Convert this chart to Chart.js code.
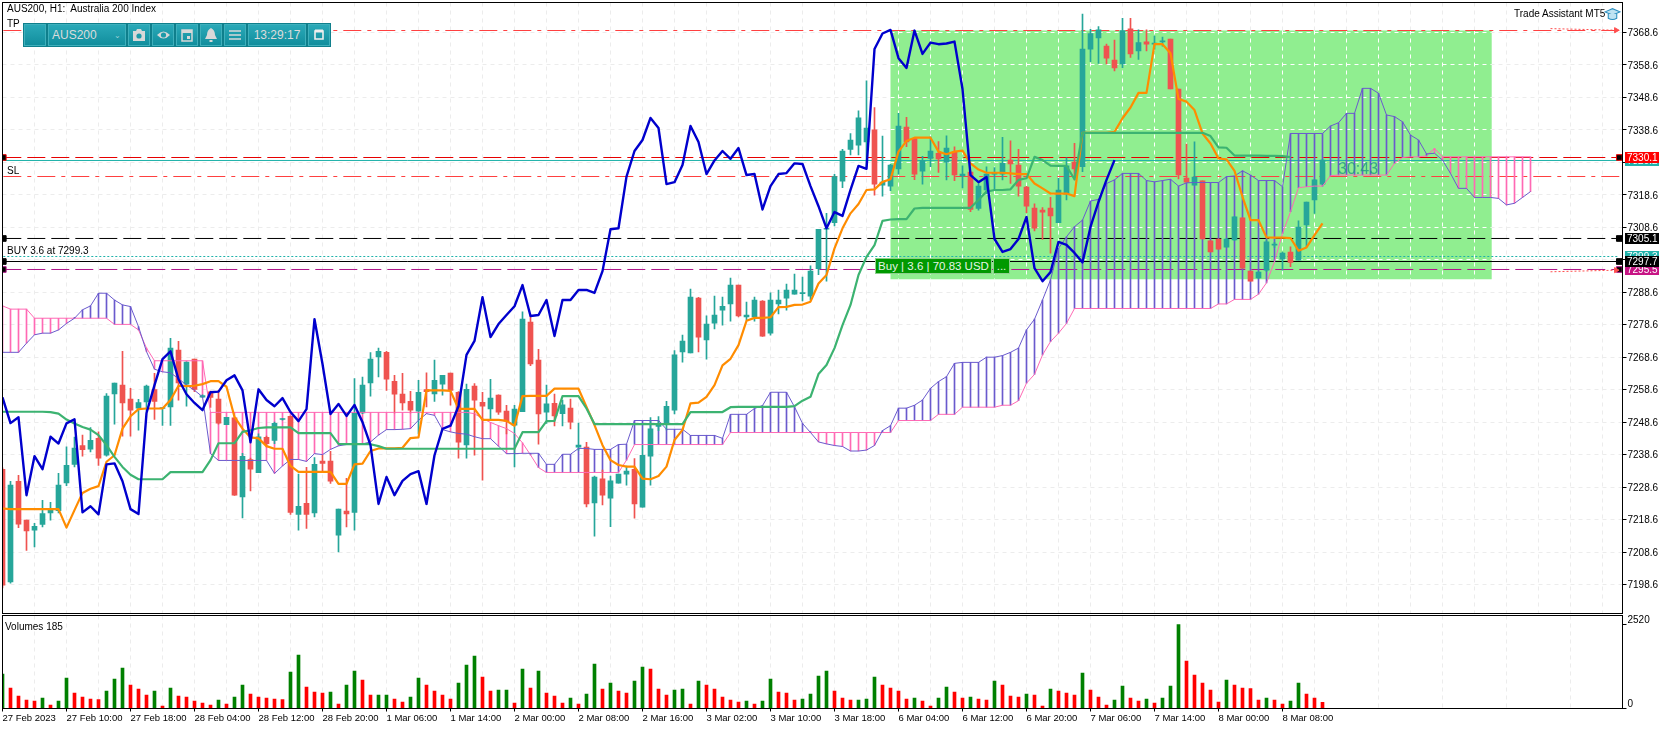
<!DOCTYPE html>
<html>
<head>
<meta charset="utf-8">
<title>AUS200, H1</title>
<script src="https://cdn.jsdelivr.net/npm/chart.js@4.4.1/dist/chart.umd.min.js"></script>
<style>
    html, body { margin: 0; padding: 0; background: #fff; width: 1670px; height: 729px; overflow: hidden; }
    body { position: relative; font-family: "Liberation Sans", Arial, sans-serif; }
    canvas { position: absolute; left: 0; }
    #chart_price { top: 0; }
    #chart_volume { top: 614px; }
    .txt { position: absolute; font-size: 10px; line-height: 12px; color: #000; white-space: pre; }
    #toolbar { position: absolute; left: 23px; top: 23px; width: 308px; height: 24px; background: #0f7f8c; box-sizing: border-box; }
    .cell { position: absolute; top: 1px; height: 22px; box-sizing: border-box; border: 1px solid #3fb0bc;
        background: linear-gradient(#2aa9b8, #128e9d); color: #dcdcdc; font-size: 12px; line-height: 20px; text-align: center; }
    .cell svg { display: block; margin: 3px auto 0; }
    #buy_box, #buy_more { position: absolute; top: 258px; height: 16px; background: #009900; border: 1px solid #8fcf8f;
        box-sizing: border-box; color: #e6f5e6; font-size: 11.5px; line-height: 14px; text-align: center; }
    #buy_box { left: 875px; width: 117px; }
    #buy_more { left: 993px; width: 17px; }
    #timer { position: absolute; left: 1338px; top: 160px; font-size: 16px; line-height: 18px; color: rgba(32, 150, 130, 0.8); }
</style>
</head>
<body>
<canvas id="chart_price" width="1670" height="614"></canvas>
<canvas id="chart_volume" width="1670" height="115"></canvas>

<div class="txt" style="left:7px;top:3px">AUS200, H1:  Australia 200 Index</div>
<div class="txt" style="left:7px;top:18px">TP</div>
<div class="txt" style="left:7px;top:165px">SL</div>
<div class="txt" style="left:7px;top:245px">BUY 3.6 at 7299.3</div>
<div class="txt" style="left:1514px;top:8px">Trade Assistant MT5</div>
<div class="txt" style="left:5px;top:621px">Volumes 185</div>
<svg style="position:absolute;left:1604px;top:6px" width="17" height="16" viewBox="0 0 16 14">
    <path d="M1 5 L8 2 L15 5 L8 8 Z" fill="#bfe3f2" stroke="#2a8fc0"/>
    <path d="M4 7 V11 Q8 13.5 12 11 V7" fill="#bfe3f2" stroke="#2a8fc0"/>
</svg>

<div id="toolbar">
    <div class="cell" style="left:1px;width:22px"></div>
    <div class="cell" style="left:25px;width:78px;text-align:left;padding-left:3px">AUS200<span style="position:absolute;right:4px;top:1px;font-size:8px;color:#9fd0d6">&#8964;</span></div>
    <div class="cell" style="left:105px;width:22px"><svg width="14" height="14" viewBox="0 0 14 14"><path d="M1 3 H4 L5 1 H9 L10 3 H13 V13 H1 Z" fill="#d8d8d8"/><circle cx="7" cy="8" r="2.6" fill="#1d9aa8"/></svg></div>
    <div class="cell" style="left:129px;width:22px"><svg width="15" height="14" viewBox="0 0 15 14"><path d="M1 7 Q7.5 0 14 7 Q7.5 14 1 7 Z" fill="#d8d8d8"/><circle cx="7.5" cy="7" r="2.6" fill="#1d9aa8"/></svg></div>
    <div class="cell" style="left:153px;width:22px"><svg width="14" height="14" viewBox="0 0 14 14"><path d="M2 2 H12 V13 H2 Z" fill="none" stroke="#d8d8d8" stroke-width="1.5"/><rect x="2" y="2" width="10" height="3" fill="#d8d8d8"/><rect x="7" y="8" width="3" height="3" fill="#d8d8d8"/></svg></div>
    <div class="cell" style="left:177px;width:22px"><svg width="14" height="14" viewBox="0 0 14 14"><path d="M7 0 Q11 2 11 7 L13 11 H1 L3 7 Q3 2 7 0 Z" fill="#d8d8d8"/><rect x="5.5" y="12" width="3" height="2" fill="#d8d8d8"/></svg></div>
    <div class="cell" style="left:201px;width:22px"><svg width="14" height="14" viewBox="0 0 14 14"><path d="M1 3 H13 M1 7 H13 M1 11 H13" stroke="#d8d8d8" stroke-width="1.6"/></svg></div>
    <div class="cell" style="left:225px;width:58px">13:29:17</div>
    <div class="cell" style="left:285px;width:22px"><svg width="12" height="14" viewBox="0 0 12 14"><path d="M2 3 H10 V11 H2 Z" fill="none" stroke="#eee" stroke-width="1.6"/><path d="M2 3 H10" stroke="#eee" stroke-width="3"/></svg></div>
</div>

<div id="buy_box">Buy | 3.6 | 70.83 USD</div>
<div id="buy_more">...</div>
<div id="timer">30:43</div>

<script>
// Eixo de tempo (um rótulo a cada 8 barras)
const timeLabels = ['27 Feb 2023', '27 Feb 10:00', '27 Feb 18:00', '28 Feb 04:00', '28 Feb 12:00', '28 Feb 20:00',
    '1 Mar 06:00', '1 Mar 14:00', '2 Mar 00:00', '2 Mar 08:00', '2 Mar 16:00', '3 Mar 02:00', '3 Mar 10:00',
    '3 Mar 18:00', '6 Mar 04:00', '6 Mar 12:00', '6 Mar 20:00', '7 Mar 06:00', '7 Mar 14:00', '8 Mar 00:00', '8 Mar 08:00'];
const priceTicks = [7368.6, 7358.6, 7348.6, 7338.6, 7328.6, 7318.6, 7308.6, 7298.6, 7288.6, 7278.6, 7268.6, 7258.6,
    7248.6, 7238.6, 7228.6, 7218.6, 7208.6, 7198.6];
const volumeTicks = [0, 2520];

// Candles
const opens = [7234.1,7199.4,7230.4,7218.4,7215.3,7217.1,7220.6,7221.3,7229.9,7235.6,
    7241.4,7240.3,7243.6,7238.4,7257.3,7260,7255.7,7252.9,7254.8,7258.6,
    7252.8,7253.3,7270.8,7260.3,7268,7256.3,7257.9,7255.7,7247.8,7249.9,
    7225.6,7237.1,7233,7243.9,7243,7249.4,7250.4,7220.2,7223.6,7220.6,
    7236.6,7236.6,7213.8,7221.2,7220.8,7251.4,7260.7,7268.7,7270.1,7261.2,
    7257.2,7255,7252,7258.6,7257.3,7260.3,7263.7,7257.8,7241.6,7259.7,
    7254.7,7252.7,7256.9,7252,7247.7,7251.8,7279.4,7267.7,7251.7,7254.4,
    7251.2,7252.9,7240.9,7240.9,7223.7,7231.1,7225.2,7229.8,7232.6,7234.1,
    7222.4,7238.1,7247.3,7248,7252.3,7270.2,7269.9,7286.8,7273.9,7279.1,
    7283.1,7285,7290.8,7281,7281,7285.9,7276,7285,7286.8,7288,
    7288.2,7287.4,7295.9,7308,7310,7322.8,7332.6,7333.9,7334.9,7338.6,
    7321.6,7321.3,7326.6,7339.5,7335.9,7325.9,7329.8,7331.4,7328.7,7331.8,
    7324.4,7325.6,7314.4,7320.1,7325,7325,7329.3,7327.8,7321,7314.5,
    7313.9,7314.5,7310,7318.8,7328.7,7327.3,7363.5,7366.9,7364.4,7360.1,
    7358.9,7369.7,7362.9,7365.7,7365,7365.7,7366.6,7351.2,7323.8,7321.6,
    7322.9,7304.4,7305,7302.5,7304.7,7311.5,7295.1,7293,7295.4,7303.1,
    7298.8,7301,7298.5,7309.3,7317,7321.9];
const closes = [7198.4,7229.2,7217.2,7215.1,7216.5,7220.4,7221.5,7229.2,7235.3,7240.6,
    7240.1,7243,7237.5,7256.6,7260.6,7254.5,7252.3,7254.6,7259.7,7255,
    7252.9,7271.4,7260.7,7267.1,7258.7,7256.8,7256.2,7248.3,7250.1,7226.1,
    7238.1,7234.1,7244.1,7242,7248.2,7249.5,7220.8,7222.7,7220.2,7235.6,
    7235.9,7230.4,7221.8,7220.3,7251.4,7260,7268,7270.4,7261.8,7257.2,
    7254.5,7252.3,7257.8,7258,7261.5,7263,7258.4,7242.4,7258.7,7255.4,
    7253.5,7256,7251.7,7248.9,7252.6,7280.3,7266.5,7251.1,7254.2,7250.5,
    7253.9,7248.6,7241.5,7223.4,7231.7,7226.1,7230.5,7232.6,7233.5,7223.4,
    7238.4,7246.5,7247.5,7253.5,7269.3,7273.6,7287.1,7274.8,7278.8,7281.6,
    7284.3,7290.8,7281.3,7281.6,7286.2,7275.1,7286.2,7286.2,7289.3,7289.3,
    7288.4,7295.1,7308,7308.3,7324.2,7332.1,7335.5,7342.3,7339.2,7321.9,
    7322.5,7327.8,7339.8,7334.9,7325,7329.2,7332.1,7329.7,7333,7324.7,
    7325,7314.1,7321.3,7325,7325.3,7328.3,7328.1,7321.3,7315.1,7308.3,
    7313.3,7312.1,7320.1,7327.5,7326.6,7363.5,7368.3,7369.4,7360.7,7357.7,
    7369.2,7362,7365.5,7365,7365.2,7365.8,7351.2,7324.7,7322.5,7324.1,
    7305,7301,7301.9,7305,7311.8,7296,7292,7294.8,7304.1,7303.2,
    7300.7,7297.8,7308.7,7316.4,7323.2,7329.3];
const highs = [7234.5,7230.4,7232.2,7218.4,7217.4,7224.5,7223.9,7232.8,7241,7244,
    7244.6,7246.9,7245.6,7257.4,7260.6,7270.4,7259,7255.6,7260,7263.6,
    7253,7274.4,7273.5,7267.1,7268,7257,7258.2,7258.4,7250.1,7250,
    7239,7237.5,7245,7244.3,7248.6,7249.7,7250.5,7232.6,7234.7,7237.7,
    7238.4,7239.6,7221.8,7231.3,7262,7262.5,7270,7271.4,7270.4,7263,
    7263.6,7258.1,7261.5,7263.8,7267.7,7263,7263.7,7258,7260.3,7260.5,
    7257.8,7261.8,7257,7253.8,7253.8,7282.6,7281.6,7271,7260,7257.2,
    7255.4,7255.7,7248.3,7242.4,7232,7233.8,7232,7232.6,7235.1,7237.4,
    7241.5,7250,7250.3,7255,7270.6,7275.4,7289.6,7287,7281.3,7287.4,
    7287.1,7293,7290.8,7285.6,7287.1,7286,7288.4,7289.3,7291.1,7294.2,
    7293.3,7296.7,7308,7312.9,7324.9,7332.6,7337.5,7344.5,7353.7,7345.5,
    7336.7,7328,7343.7,7342.5,7336.2,7330.5,7336.5,7335,7336.8,7333.4,
    7327.5,7326,7322,7327.2,7327,7336.3,7335.2,7332.6,7321.2,7315.8,
    7314.7,7317.8,7323.7,7330,7334.5,7374.3,7369.6,7370.4,7365,7366.3,
    7373,7373,7369.4,7369.4,7367.5,7367.2,7366.6,7351.2,7334.2,7334.9,
    7322.9,7304.4,7305,7305.2,7312,7311.5,7295.1,7295,7304.5,7304,
    7301,7302.6,7310.6,7316.4,7323.4,7329.5];
const lows = [7197.5,7199,7216.1,7209.1,7210.2,7216.3,7218.4,7220.6,7229,7234.8,
    7238.1,7239.4,7235.3,7238.1,7248,7244.3,7244.3,7246.1,7252,7249.4,
    7247.6,7247.6,7255.4,7253.5,7258,7256.1,7253.1,7248,7247.8,7226,
    7219.1,7227.4,7233,7241,7242,7249.2,7220.2,7215.3,7215.9,7219.4,
    7233.2,7229.7,7208.6,7216.3,7215.3,7251.2,7256.6,7262.5,7258.4,7251.4,
    7252.3,7251.4,7245,7253.3,7255,7256.9,7253.8,7237.5,7237.5,7238.4,
    7230.7,7249.2,7251,7245,7234.8,7251.8,7266,7241.8,7248.2,7247.4,
    7247.4,7246.5,7240,7222.5,7213.5,7223.1,7216.4,7229.8,7229.2,7219,
    7222.4,7229.2,7246,7246.2,7251.1,7267.1,7269.9,7270.2,7268,7277.3,
    7278.5,7279.7,7281,7280,7279.7,7275,7275.4,7281.9,7283.1,7288,
    7285.9,7286.2,7294,7292,7309,7320.8,7330.9,7330.9,7327.3,7318.5,
    7318.2,7319.9,7325,7333.4,7323.3,7321.9,7327.3,7325.5,7323.2,7323,
    7320.7,7313.4,7313.9,7319,7320,7323.2,7322.1,7318.2,7313.1,7307.5,
    7304.9,7300.6,7310,7317,7323.2,7325.7,7359.6,7359.1,7358.9,7356.8,
    7357.8,7360.9,7360.3,7362.9,7363.5,7364.4,7351.2,7323.5,7322.5,7321.6,
    7305,7301,7301.9,7302.5,7304.5,7296,7292,7292.8,7295,7302.4,
    7295.4,7296.5,7298.5,7302.6,7312.9,7321.9];

// Ichimoku
const tenkan = [7222,7221.8,7221.8,7221.8,7221.8,7221.8,7221.8,7221.8,7216.1,7221.5,
    7226.8,7228.1,7228.9,7236.4,7238.4,7246.6,7250.4,7252.6,7252.8,7252.8,
    7252.8,7255.4,7259.8,7259.7,7259.8,7260.3,7261.2,7261.2,7259.5,7250.2,
    7246.6,7243.9,7243.6,7241.2,7240.4,7240.4,7235.1,7233.3,7233.3,7233.3,
    7233.3,7233.3,7229.6,7229.6,7235.6,7235.8,7239.7,7240.5,7240.5,7240.5,
    7240.7,7243.7,7243.9,7258.4,7258.4,7258.4,7258.2,7252.7,7252.7,7252.7,
    7249.3,7249.3,7249.3,7249,7247.5,7256.6,7256.7,7256.7,7256.7,7258.9,
    7258.9,7258.9,7258.9,7253.3,7247.7,7241.5,7236.9,7235.4,7234.9,7234.9,
    7231.2,7231,7232,7234.9,7243.1,7246.2,7254.4,7254.6,7256.4,7260,
    7266.1,7268.1,7272.3,7279.8,7280.7,7280.7,7280.9,7284,7284.1,7284.7,
    7284.8,7285.7,7291.3,7293.9,7302.1,7308.3,7312.9,7315.8,7320.1,7320.3,
    7322.6,7323.4,7331.9,7335.2,7336.2,7336.2,7336.2,7331.9,7331.1,7331.9,
    7332.2,7328.3,7326.4,7325.4,7325.4,7325.4,7325.2,7325,7325,7322.1,
    7320.6,7319,7319,7319,7318.2,7337.7,7337.7,7337.7,7337.7,7338,
    7342.2,7345.5,7350,7350,7365,7365,7362.2,7348.1,7347.3,7344.7,
    7337.5,7334.4,7329.8,7329.5,7326,7318,7310.8,7310.8,7305.5,7305.4,
    7305.4,7305.3,7301.4,7302.4,7306.2,7309.8];
const kijun = [7251.8,7251.8,7251.8,7251.8,7251.8,7251.8,7251.7,7251.2,7249.4,7248.2,
    7247.1,7246.3,7244.6,7241.5,7237.9,7234.8,7232.4,7231,7231,7231,
    7231,7233.2,7233.2,7233.2,7233.2,7233.2,7236.9,7242.1,7242.1,7242.1,
    7245.6,7246.1,7246.8,7247,7247,7247,7247,7245.2,7245.2,7245.2,
    7245.2,7245.2,7241.9,7241.8,7241.8,7241.8,7241.8,7241.2,7240.4,7240.4,
    7240.4,7240.4,7240.4,7240.4,7240.4,7240.4,7240.4,7240.4,7240.4,7240.4,
    7240.4,7240.4,7240.4,7240.4,7240.4,7245.5,7245.5,7245.5,7248.9,7249,
    7256.6,7256.6,7256.6,7252.8,7248,7248,7248,7248,7248,7248,
    7248,7248,7248,7248,7248,7248,7251.7,7251.7,7251.7,7251.7,
    7251.7,7253.2,7253.3,7253.3,7253.3,7253.3,7253.3,7253.3,7253.3,7253.5,
    7255.2,7256.4,7263.4,7266.2,7271.4,7278.5,7284.7,7293.9,7299.5,7303.1,
    7310.6,7311,7311.1,7311.1,7314.4,7314.6,7314.6,7314.6,7314.6,7314.6,
    7314.6,7314.6,7317,7319.6,7320.1,7320.1,7320.3,7323.2,7323.7,7330.3,
    7329.3,7327.6,7327.5,7327.5,7323.4,7337.7,7337.7,7337.7,7337.7,7337.7,
    7337.7,7337.7,7337.7,7337.7,7337.7,7337.7,7337.7,7337.7,7337.7,7337.7,
    7337.7,7336.7,7333.2,7333.1,7330.7,7330.7,7330.7,7330.7,7330.6,7330.6,
    7330.5,7330.2,null,null,null,null];
const chikou = [7256.2,7248.3,7250.1,7226.1,7238.1,7234.1,7244.1,7242,7248.2,7249.5,
    7220.8,7222.7,7220.2,7235.6,7235.9,7230.4,7221.8,7220.3,7251.4,7260,
    7268,7270.4,7261.8,7257.2,7254.5,7252.3,7257.8,7258,7261.5,7263,
    7258.4,7242.4,7258.7,7255.4,7253.5,7256,7251.7,7248.9,7252.6,7280.3,
    7266.5,7251.1,7254.2,7250.5,7253.9,7248.6,7241.5,7223.4,7231.7,7226.1,
    7230.5,7232.6,7233.5,7223.4,7238.4,7246.5,7247.5,7253.5,7269.3,7273.6,
    7287.1,7274.8,7278.8,7281.6,7284.3,7290.8,7281.3,7281.6,7286.2,7275.1,
    7286.2,7286.2,7289.3,7289.3,7288.4,7295.1,7308,7308.3,7324.2,7332.1,
    7335.5,7342.3,7339.2,7321.9,7322.5,7327.8,7339.8,7334.9,7325,7329.2,
    7332.1,7329.7,7333,7324.7,7325,7314.1,7321.3,7325,7325.3,7328.3,
    7328.1,7321.3,7315.1,7308.3,7313.3,7312.1,7320.1,7327.5,7326.6,7363.5,
    7368.3,7369.4,7360.7,7357.7,7369.2,7362,7365.5,7365,7365.2,7365.8,
    7351.2,7324.7,7322.5,7324.1,7305,7301,7301.9,7305,7311.8,7296,
    7292,7294.8,7304.1,7303.2,7300.7,7297.8,7308.7,7316.4,7323.2,7329.3];
const spanA = [7270.1,7270.1,7270.1,7272.9,7275.5,7276,7276,7277,7279,7280.6,
    7283.2,7284.4,7288.3,7288.3,7286.2,7284.7,7284.2,7278,7270.3,7264.9,
    7264.1,7263.8,7262,7260,7258.4,7256.4,7238.9,7236.8,7236.8,7236.8,
    7236.8,7236.8,7236.8,7236.8,7232.8,7235.1,7237.1,7237.1,7236.5,7238.9,
    7238.6,7240.2,7241.3,7241.7,7241.8,7241.9,7242.5,7244.6,7246.3,7246.3,
    7246.4,7246.6,7249.2,7251.2,7250.7,7246.3,7245.6,7245.1,7244.9,7244.1,
    7243.5,7243.5,7241.2,7238.9,7238.9,7239,7239,7239,7235.6,7235.6,
    7238.7,7238.7,7240.5,7240.5,7240.2,7240.2,7240.2,7241.7,7241.8,7249.1,
    7249.1,7249.1,7249.1,7246.4,7246.4,7246.4,7244.5,7244.5,7244.5,7244.5,
    7243.6,7251,7251,7251,7252.8,7253.7,7257.8,7257.8,7257.8,7253.3,
    7248.2,7245.4,7242.5,7241.9,7241.4,7241.1,7239.7,7239.7,7240,7241.4,
    7246,7247.5,7252.9,7252.9,7253.8,7255.4,7259,7261.1,7262.6,7266.7,
    7267,7267,7267,7268.6,7268.6,7269.1,7270.1,7271.4,7277,7280.3,
    7286.2,7292.4,7302.1,7305.7,7308.8,7310.8,7316.7,7317.2,7322.1,7323.2,
    7325.2,7325.2,7325.2,7323,7322.6,7323,7323.4,7321.3,7322.3,7322.4,
    7322.4,7322.4,7322.4,7324.2,7324.4,7326,7324.7,7323,7323,7323,
    7321.1,7337.5,7337.5,7337.5,7337.5,7337.5,7339.8,7340.8,7343.7,7343.7,
    7351.4,7351.4,7349.9,7343.2,7342.7,7341.1,7337,7335.5,7331.2,7331.4,
    7329.3,7325.2,7320.6,7320.6,7317.8,7317.8,7317.8,7317.5,7315.5,7316,7317.8,7319.6];
const spanB = [7284.4,7283.4,7283.4,7283.4,7280.6,7280.6,7280.6,7280.6,7280.6,7280.6,
    7280.6,7280.6,7280.6,7280.6,7278.7,7278.7,7278.7,7277,7271.4,7267.5,
    7267.5,7267.5,7267.5,7267.5,7267.5,7267.5,7251.6,7251.6,7251.6,7251.6,
    7251.6,7251.6,7251.6,7251.6,7251.6,7251.6,7251.6,7251.6,7251.6,7251.6,
    7251.6,7251.6,7251.6,7251.6,7251.6,7251.6,7251.6,7251.6,7251.6,7251.6,
    7251.6,7251.6,7251.6,7251.6,7251.6,7251.6,7251.6,7251.6,7251.6,7251.2,
    7249.7,7248.5,7247.5,7246.6,7245.1,7242.2,7238.5,7234.6,7233.1,7233.1,
    7233.1,7233.1,7233.1,7233.1,7233.1,7233.1,7233.1,7233.1,7236.9,7241.7,
    7241.7,7241.7,7241.7,7241.7,7241.7,7241.7,7241.7,7241.7,7241.7,7241.7,
    7241.7,7245.4,7245.4,7245.4,7245.4,7245.4,7245.4,7245.4,7245.4,7245.4,
    7245.4,7245.4,7245.4,7245.4,7245.4,7245.4,7245.4,7245.4,7245.4,7245.4,
    7245.4,7245.4,7249.1,7249.1,7249.1,7249.1,7249.1,7251,7251,7251,
    7253.2,7253.2,7253.2,7253.2,7253.2,7253.8,7253.8,7255.2,7260.6,7263.3,
    7269.3,7273.4,7276,7279,7283.6,7283.6,7283.6,7283.6,7283.6,7283.6,
    7283.6,7283.6,7283.6,7283.6,7283.6,7283.6,7283.6,7283.6,7283.6,7283.6,
    7283.6,7283.6,7285,7285,7286.4,7286.4,7286.4,7288,7291.5,7298,
    7306.7,7313.4,7320.8,7321.1,7321.3,7321.3,7324.5,7324.7,7324.7,7324.7,
    7324.7,7324.7,7324.7,7324.7,7328.3,7330.1,7330.3,7330.3,7330.6,7332.9,
    7330.3,7330.3,7330.3,7330.3,7330.3,7330.3,7330.3,7330.3,7330.3,7330.3,7330.3,7330.3];

// Volumes
const volumes = [1030,610,370,250,220,310,100,220,910,460,
    340,280,270,520,880,1210,700,580,400,520,
    70,610,370,340,220,160,100,250,130,340,
    700,430,340,310,280,270,1090,1600,640,490,
    460,490,130,700,1120,850,400,400,400,280,
    190,340,910,700,520,400,280,760,1300,1570,
    940,520,550,550,160,1180,610,1120,460,370,
    160,310,130,430,1330,580,760,520,460,820,
    1240,1180,580,400,550,580,130,820,700,580,
    340,250,190,220,130,220,880,490,460,250,
    280,430,970,1120,520,310,250,250,280,940,
    700,610,520,280,310,220,70,310,640,490,
    310,340,280,250,820,700,370,340,430,400,
    70,580,520,460,400,1060,550,340,100,250,
    670,310,220,280,160,310,670,2520,1420,1000,
    760,550,190,850,700,610,600,250,310,250,
    130,220,760,430,310,185];

// Niveis do trade: TP, preço, atual, SL, stop, buy, bid, ask
const levelPrices = [7369.216, 7330.1, 7329.18, 7324.25, 7305.16, 7299.61, 7298.07, 7295.61];
const tagPrices = [7329.18, 7299.61, 7295.61, 7330.1, 7305.16, 7298.07];
const tagLabels = ['7329.2', '7299.3', '7295.5', '7330.1', '7305.1', '7297.7'];
const tagColors = ['#20b2aa', '#20b2aa', '#c71585', '#ff0000', '#000000', '#000000'];
const zoneBars = [111, 186.15];
const zonePrices = [7292.6, 7369.216];
const lastIndex = 202.5;

function pts(values) {
    return values.map((v, i) => ({ x: i, y: v }));
}

function lineSet(values, color, width, order) {
    return {
        type: 'line', data: pts(values), borderColor: color, borderWidth: width,
        pointRadius: 0, tension: 0, order: order, borderJoinStyle: 'round'
    };
}

function barSet(data, color, thickness, order) {
    return {
        type: 'bar', data: data, backgroundColor: color, barThickness: thickness,
        grouped: false, borderWidth: 0, order: order
    };
}

function levelSet(price, color, dash, marker) {
    return {
        type: 'line',
        data: [{ x: 0.1, y: price }, { x: 202.1, y: price }],
        borderColor: color, borderWidth: 1, borderDash: dash, tension: 0, order: 9,
        pointStyle: 'rect', pointRadius: marker ? 4 : 0,
        pointBackgroundColor: '#000', pointBorderColor: color, pointBorderWidth: 1
    };
}

function arrowSet(price1, price2) {
    return {
        type: 'line',
        data: [{ x: 193.5, y: price1 }, { x: 201.7, y: price2 }],
        borderColor: '#ff4d4d', borderWidth: 1, borderDash: [2, 2], tension: 0, order: 8,
        pointStyle: 'triangle', pointRotation: 90, pointRadius: [0, 3],
        pointBackgroundColor: '#ff4d4d', pointBorderColor: '#ff4d4d'
    };
}

// tira a folga automática que o Chart.js reserva para os rótulos
function noPadding(scale) {
    scale.paddingTop = 0;
    scale.paddingBottom = 0;
    scale.paddingLeft = 0;
    scale.paddingRight = 0;
}

const upColor = '#26a69a';
const downColor = '#ef5350';
const candleColors = closes.map((c, i) => c >= opens[i] ? upColor : downColor);
const hatchColors = spanA.map((a, i) => a >= spanB[i] ? '#6a5acd' : '#ff69b4');

Chart.defaults.font.family = '"Liberation Sans", Arial, sans-serif';
Chart.defaults.font.size = 10;
Chart.defaults.color = '#000';
Chart.defaults.animation = false;

// Zona verde do trade, com a grade branca por cima
const zonePlugin = {
    id: 'zone',
    beforeDatasetsDraw(chart) {
        const ctx = chart.ctx, x = chart.scales.x, y = chart.scales.y;
        const left = x.getPixelForValue(zoneBars[0]), right = x.getPixelForValue(zoneBars[1]);
        const top = y.getPixelForValue(zonePrices[1]), bottom = y.getPixelForValue(zonePrices[0]);
        ctx.save();
        ctx.fillStyle = '#90ee90';
        ctx.fillRect(left, top, right - left, bottom - top);
        ctx.strokeStyle = '#ffffff';
        ctx.lineWidth = 1;
        ctx.setLineDash([4, 4]);
        x.ticks.forEach(t => {
            const px = Math.round(x.getPixelForValue(t.value) - 0.5) + 0.5;
            if (px > left && px < right) {
                ctx.beginPath(); ctx.moveTo(px, top); ctx.lineTo(px, bottom); ctx.stroke();
            }
        });
        y.ticks.forEach(t => {
            const py = Math.round(y.getPixelForValue(t.value) - 0.5) + 0.5;
            if (py > top && py < bottom) {
                ctx.beginPath(); ctx.moveTo(left, py); ctx.lineTo(right, py); ctx.stroke();
            }
        });
        ctx.restore();
    }
};

// Etiquetas de preço na escala direita
const tagPlugin = {
    id: 'tags',
    afterDraw(chart) {
        const ctx = chart.ctx, y = chart.scales.y;
        ctx.save();
        ctx.font = '10px "Liberation Sans", Arial, sans-serif';
        ctx.textBaseline = 'middle';
        tagPrices.forEach((p, i) => {
            const py = y.getPixelForValue(p);
            ctx.fillStyle = tagColors[i];
            ctx.fillRect(chart.chartArea.right + 2.5, Math.round(py - 5.5), 34, 11);
            ctx.fillStyle = '#fff';
            ctx.fillText(tagLabels[i], chart.chartArea.right + 4.5, py + 0.5);
        });
        ctx.restore();
    }
};

const framePlugin = {
    id: 'frame',
    afterDraw(chart) {
        const a = chart.chartArea;
        chart.ctx.save();
        chart.ctx.strokeStyle = '#000';
        chart.ctx.lineWidth = 1;
        chart.ctx.strokeRect(a.left, a.top, a.width, a.height);
        chart.ctx.restore();
    }
};

function gridTicks(scale) {
    const list = [];
    for (let v = 0; v <= 200; v += 4) list.push({ value: v });
    scale.ticks = list;
}

const gridColor = '#ececec';

const priceChart = new Chart(document.getElementById('chart_price'), {
    type: 'bar',
    data: {
        datasets: [
            lineSet(chikou, '#0000cd', 2.4, 1),
            lineSet(kijun, '#3cb371', 2.2, 2),
            lineSet(tenkan, '#ff8c00', 2.2, 3),
            lineSet(spanA, '#6a5acd', 1, 4),
            lineSet(spanB, '#ff69b4', 1, 5),
            barSet(opens.map((o, i) => ({ x: i, y: [o, closes[i]] })), candleColors, 5, 6),
            barSet(lows.map((l, i) => ({ x: i, y: [l, highs[i]] })), candleColors, 1, 7),
            barSet(spanA.map((a, i) => ({ x: i, y: [a, spanB[i]] })), hatchColors, 1, 8),
            levelSet(levelPrices[0], '#ff4040', [18, 6, 4, 6], false),
            levelSet(levelPrices[1], '#e60000', [18, 6], true),
            levelSet(levelPrices[2], '#20b2aa', [], false),
            levelSet(levelPrices[3], '#ff4040', [18, 6, 4, 6], false),
            levelSet(levelPrices[4], '#000000', [18, 6], true),
            levelSet(levelPrices[5], '#20b2aa', [2, 2], false),
            levelSet(levelPrices[6], '#000000', [], true),
            levelSet(levelPrices[7], '#b0168a', [18, 6], true),
            arrowSet(7369.8, 7369.3),
            arrowSet(7294.9, 7295.4)
        ]
    },
    options: {
        responsive: false,
        minBarLength: 1,
        layout: { autoPadding: false, padding: { left: 2.5, top: 2.5, right: 0, bottom: 0.5 } },
        plugins: { legend: { display: false }, tooltip: { enabled: false } },
        scales: {
            x: {
                type: 'linear', min: 0, max: lastIndex, offset: false,
                afterBuildTicks: gridTicks,
                afterFit: s => { noPadding(s); s.height = 0; },
                ticks: { display: false, autoSkip: false },
                grid: { offset: false, color: gridColor, drawTicks: false },
                border: { display: false, dash: [4, 4] }
            },
            y: {
                position: 'right', min: 7189.66, max: 7377.84,
                afterBuildTicks: s => { s.ticks = priceTicks.map(v => ({ value: v })); },
                afterFit: s => { noPadding(s); s.width = 47.5; },
                ticks: { autoSkip: false, padding: 1, labelOffset: 1, callback: v => v.toFixed(1) },
                grid: { color: gridColor, tickColor: '#000', tickLength: 4, tickBorderDash: [] },
                border: { display: false, dash: [4, 4] }
            }
        }
    },
    plugins: [zonePlugin, framePlugin, tagPlugin]
});

// Volumes: verde quando sobe em relação à barra anterior
const volumeColors = volumes.map((v, i) => (i === 0 || v >= volumes[i - 1]) ? '#008000' : '#ff0000');

const volumeChart = new Chart(document.getElementById('chart_volume'), {
    type: 'bar',
    data: {
        datasets: [barSet(pts(volumes), volumeColors, 3, 1)]
    },
    options: {
        responsive: false,
        layout: { autoPadding: false, padding: { left: 2.5, top: 1.5, right: 0, bottom: 0 } },
        plugins: { legend: { display: false }, tooltip: { enabled: false } },
        scales: {
            x: {
                type: 'linear', min: 0, max: lastIndex, offset: false,
                afterBuildTicks: gridTicks,
                afterFit: s => { noPadding(s); s.height = 20.5; },
                ticks: {
                    autoSkip: false, maxRotation: 0, align: 'start', padding: 1,
                    font: { size: 9.5 },
                    callback: v => v % 8 === 0 ? timeLabels[v / 8] : ''
                },
                grid: {
                    offset: false, color: gridColor, tickLength: 3, tickBorderDash: [],
                    tickColor: c => c.tick && c.tick.value % 8 === 0 ? '#000' : 'rgba(0,0,0,0)'
                },
                border: { display: false, dash: [4, 4] }
            },
            y: {
                position: 'right', min: 0, max: 2790,
                afterBuildTicks: s => { s.ticks = volumeTicks.map(v => ({ value: v })); },
                afterFit: s => { noPadding(s); s.width = 47.5; },
                ticks: { autoSkip: false, padding: 1, labelOffset: -4, callback: v => String(v) },
                grid: { drawOnChartArea: false, tickColor: '#000', tickLength: 4 },
                border: { display: false }
            }
        }
    },
    plugins: [framePlugin]
});
</script>
</body>
</html>
